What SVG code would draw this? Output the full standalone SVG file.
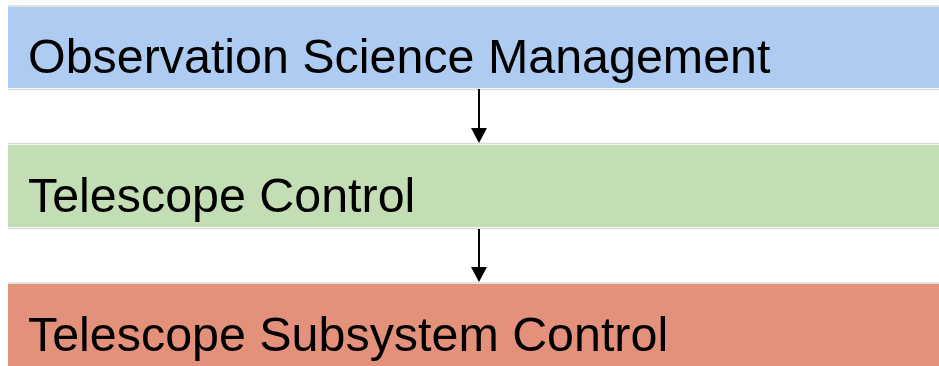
<svg xmlns="http://www.w3.org/2000/svg" width="939" height="366" viewBox="0 0 939 366">
<style>
.lbl{font-family:"Liberation Sans",Arial,sans-serif;font-size:48.4px;fill:#000}
.edge{stroke:#d9d9d9;stroke-width:1.5}
.conn{stroke:#000;stroke-width:2;fill:none}
.head{fill:#000}
</style>
<rect width="939" height="366" fill="#fff"/>
<g id="node-osm">
<line class="edge" x1="8" y1="6" x2="939" y2="6"/>
<line class="edge" x1="8" y1="89.5" x2="939" y2="89.5"/>
<rect x="8" y="7" width="931" height="81" fill="#aecbf2"/>
<text class="lbl" x="28" y="73">Observation Science Management</text>
</g>
<g id="node-tc">
<line class="edge" x1="8" y1="143.5" x2="939" y2="143.5"/>
<line class="edge" x1="8" y1="228.5" x2="939" y2="228.5"/>
<rect x="8" y="145" width="931" height="82" fill="#c3deb5"/>
<text class="lbl" x="28" y="212">Telescope Control</text>
</g>
<g id="node-tsc">
<line class="edge" x1="8" y1="283" x2="939" y2="283"/>
<rect x="8" y="284" width="931" height="82" fill="#e3917b"/>
<text class="lbl" x="28" y="351">Telescope Subsystem Control</text>
</g>
<g id="connectors">
<path class="conn" d="M479,89 L479,129"/>
<path class="head" d="M471,128 L487,128 L479,143 Z"/>
<path class="conn" d="M479,229 L479,268"/>
<path class="head" d="M471,267 L487,267 L479,282 Z"/>
</g>
</svg>
